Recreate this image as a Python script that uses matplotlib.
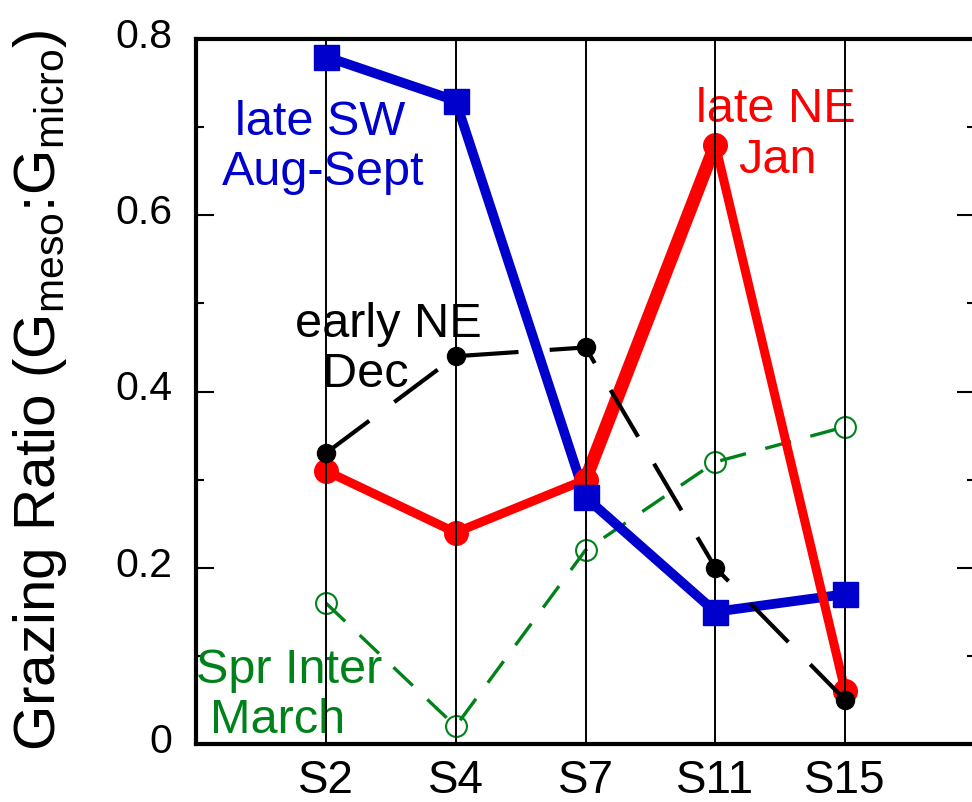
import matplotlib
matplotlib.use('Agg')
import matplotlib.pyplot as plt
import matplotlib.transforms as mtransforms
from matplotlib.ticker import MultipleLocator

plt.rcParams['font.family'] = ['Liberation Sans', 'DejaVu Sans']
plt.rcParams['mathtext.fontset'] = 'custom'
plt.rcParams['mathtext.rm'] = 'Liberation Sans'
plt.rcParams['mathtext.it'] = 'Liberation Sans'

# stations and grazing ratios
stations = ['S2', 'S4', 'S7', 'S11', 'S15']
late_sw = [0.78, 0.73, 0.28, 0.15, 0.17]
late_ne = [0.31, 0.24, 0.30, 0.68, 0.06]
early_ne = [0.33, 0.44, 0.45, 0.20, 0.05]
spr_inter = [0.16, 0.02, 0.22, 0.32, 0.36]

x = list(range(1, len(stations) + 1))

blue = '#0000cc'
red = '#ff0000'
green = '#00821a'

fig = plt.figure(figsize=(9.72, 8.03), dpi=100)
ax = fig.add_axes([196 / 972, 1 - 745 / 803, 779 / 972, 705 / 803])

# vertical lines at each station (drawn over the red series, like the original)
for xi in x:
    ax.axvline(xi, color='black', lw=1.4, zorder=4)

ax.plot(x, spr_inter, color=green, lw=2.4, dashes=(8, 6), marker='o',
        ms=15, mfc='none', mec=green, mew=1.5, zorder=1.5)
ax.plot(x, late_sw, color=blue, lw=7, zorder=2)
ax.plot(x, late_ne, color=red, lw=6.5, marker='o', ms=17, zorder=3)
# the S7 -> S11 stretch of the red line is drawn heavier in the original
ax.plot(x[2:4], late_ne[2:4], color=red, lw=9.5, solid_capstyle='round', zorder=3)
ax.plot(x, late_sw, color=blue, ls='none', marker='s', ms=18, zorder=5)
ax.plot(x, early_ne, color='black', lw=3, dashes=(13, 7.5), marker='o',
        ms=13, zorder=6)

# labels for each cruise
ax.text(0.955, 0.692, 'late SW', color=blue, fontsize=35, ha='center', va='baseline')
ax.text(0.978, 0.635, 'Aug-Sept', color=blue, fontsize=35, ha='center', va='baseline')
ax.text(4.47, 0.707, 'late NE', color=red, fontsize=35, ha='center', va='baseline')
ax.text(4.476, 0.649, 'Jan', color=red, fontsize=35, ha='center', va='baseline')
ax.text(1.479, 0.463, 'early NE', color='black', fontsize=35, ha='center', va='baseline')
ax.text(1.302, 0.406, 'Dec', color='black', fontsize=35, ha='center', va='baseline')
ax.text(0.716, 0.070, 'Spr Inter', color=green, fontsize=35, ha='center', va='baseline')
ax.text(0.632, 0.0136, 'March', color=green, fontsize=35, ha='center', va='baseline')

ax.set_xlim(0, 6)
ax.set_ylim(0, 0.8)
ax.set_xticks(x)
ax.set_xticklabels(stations, fontsize=33)
ax.tick_params(axis='x', length=0, pad=10)

ax.set_yticks([0, 0.2, 0.4, 0.6, 0.8])
ax.set_yticklabels(['0', '0.2', '0.4', '0.6', '0.8'], fontsize=29.5)
ax.yaxis.set_minor_locator(MultipleLocator(0.1))
ax.tick_params(axis='y', which='both', direction='in', left=True, right=True, width=1.5, pad=17)
ax.tick_params(axis='y', which='major', length=13)
ax.tick_params(axis='y', which='minor', length=5.5)

# nudge y tick labels up a little like the original
offset = mtransforms.ScaledTranslation(0, 7 / 100, fig.dpi_scale_trans)
for lab in ax.get_yticklabels():
    lab.set_transform(lab.get_transform() + offset)

for s in ax.spines.values():
    s.set_linewidth(3)
    s.set_zorder(7)

fig.text(40 / 972, 1 - 390 / 803,
         r'Grazing Ratio (G$_{\mathrm{meso}}$:G$_{\mathrm{micro}}$)',
         rotation=90, ha='center', va='center', fontsize=42)

fig.savefig('out.png', dpi=100)
